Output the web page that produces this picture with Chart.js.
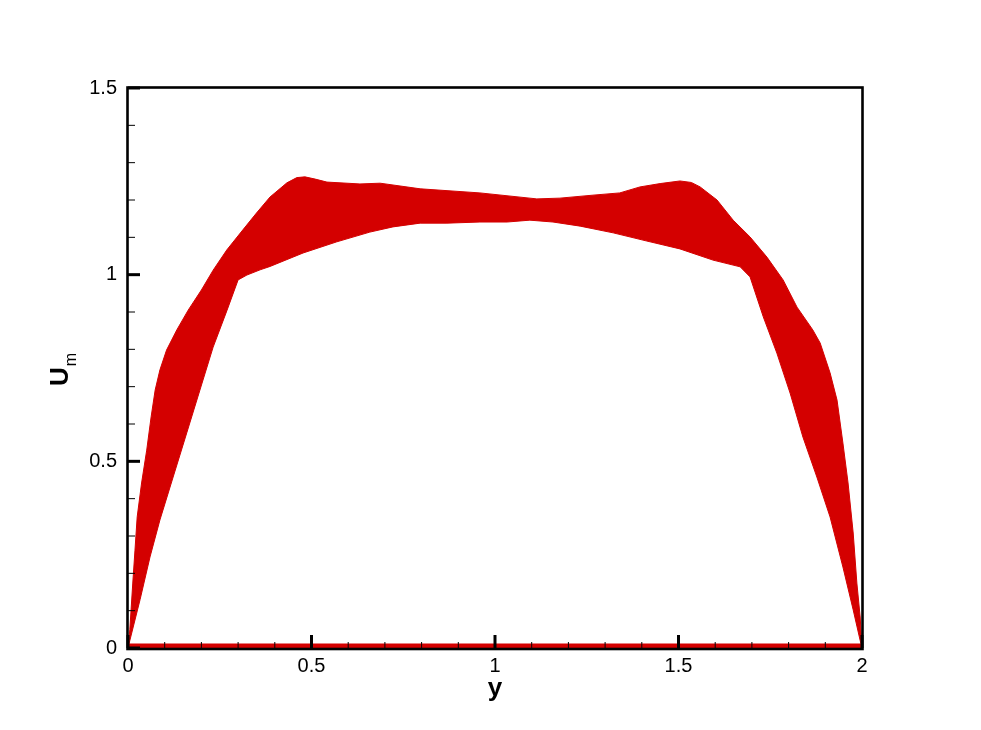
<!DOCTYPE html>
<html lang="en">
<head>
  <meta charset="UTF-8">
  <title>U_m vs y</title>
  <script src="https://cdn.jsdelivr.net/npm/chart.js"></script>
  <style>
    body { background:#fff; margin:0; padding:0 }
    #wrap { width:981px; height:730px }
  </style>
</head>
<body>
  <div id="wrap"><canvas id="umChart" width="981" height="730"></canvas></div>

  <script>
    // upper edge of the band
    const upperX=[0,0.005,0.013,0.019,0.025,0.037,0.051,0.063,0.074,0.087,0.105,0.133,0.164,0.2,0.232,0.269,0.313,0.35,0.387,0.433,0.46,0.482,0.51,0.542,0.632,0.687,0.796,0.959,1.114,1.177,1.267,1.34,1.395,1.45,1.504,1.535,1.559,1.605,1.649,1.695,1.741,1.785,1.823,1.866,1.886,1.913,1.932,1.948,1.962,1.976,1.986,1.995,2.0];
    const upperU=[0,0.05,0.174,0.262,0.351,0.442,0.53,0.619,0.691,0.745,0.798,0.852,0.905,0.959,1.012,1.066,1.12,1.165,1.208,1.246,1.26,1.262,1.256,1.248,1.243,1.245,1.23,1.219,1.203,1.205,1.213,1.219,1.235,1.244,1.251,1.247,1.235,1.2,1.146,1.101,1.047,0.986,0.913,0.852,0.817,0.737,0.664,0.549,0.442,0.308,0.174,0.083,0];
    // lower edge of the band
    const lowerX=[0,0.005,0.033,0.06,0.087,0.123,0.16,0.196,0.232,0.27,0.3,0.324,0.36,0.387,0.477,0.569,0.659,0.722,0.796,0.869,0.959,1.033,1.095,1.158,1.232,1.322,1.414,1.504,1.594,1.668,1.695,1.731,1.768,1.804,1.839,1.877,1.913,1.948,1.976,1.995,2.0];
    const lowerU=[0,0.02,0.13,0.244,0.343,0.458,0.576,0.691,0.806,0.905,0.986,0.999,1.013,1.022,1.058,1.088,1.114,1.128,1.138,1.138,1.141,1.141,1.146,1.141,1.13,1.112,1.09,1.069,1.039,1.021,0.994,0.887,0.79,0.683,0.565,0.458,0.351,0.217,0.102,0.02,0];
    // the flat line lying on the axis
    const zeroX=[0,2];
    const zeroU=[0,0];

    const xTicks=[0,0.5,1,1.5,2];
    const yTicks=[0,0.5,1,1.5];
    const RED="#d40000";

    const pts=(xs,ys)=>xs.map((x,i)=>({x,y:ys[i]}));

    // tecplot-like frame, inward ticks and axis titles
    const framePlugin={
      id:"frame",
      afterDraw(chart){
        const {ctx,chartArea:a,scales:{x,y}}=chart;
        ctx.save();
        ctx.strokeStyle="#000";
        // minor + major ticks on bottom axis
        for(let i=0;i<=20;i++){
          const v=i/10, px=x.getPixelForValue(v), major=i%5===0;
          ctx.lineWidth=major?3:1;
          ctx.beginPath();
          ctx.moveTo(px,a.bottom);
          ctx.lineTo(px,a.bottom-(major?13:6));
          ctx.stroke();
        }
        // minor + major ticks on left axis
        for(let i=0;i<=15;i++){
          const v=i/10, py=y.getPixelForValue(v), major=i%5===0;
          ctx.lineWidth=major?3:1;
          ctx.beginPath();
          ctx.moveTo(a.left,py);
          ctx.lineTo(a.left+(major?12:7),py);
          ctx.stroke();
        }
        ctx.lineWidth=2.6;
        ctx.strokeRect(a.left-0.5,a.top-0.5,a.right-a.left+1,a.bottom-a.top+1.5);

        ctx.fillStyle="#000";
        // x title
        ctx.font="bold 26px 'Liberation Sans', Arial, sans-serif";
        ctx.textAlign="center";
        ctx.textBaseline="alphabetic";
        ctx.fillText("y",(a.left+a.right)/2,696);
        // y title U with subscript m
        ctx.translate(68,386);
        ctx.rotate(-Math.PI/2);
        ctx.textAlign="left";
        ctx.fillText("U",0,0);
        const w=ctx.measureText("U").width;
        ctx.font="16px 'Liberation Sans', Arial, sans-serif";
        ctx.fillText("m",w+1,8);
        ctx.restore();
      }
    };

    new Chart(document.getElementById("umChart"),{
      type:"line",
      data:{datasets:[
        {data:pts(upperX,upperU),borderColor:RED,backgroundColor:RED,borderWidth:1,fill:"+1",pointRadius:0,tension:0},
        {data:pts(lowerX,lowerU),borderColor:RED,backgroundColor:RED,borderWidth:1,fill:false,pointRadius:0,tension:0},
        {data:pts(zeroX,zeroU),borderColor:RED,borderWidth:9,fill:false,pointRadius:0,clip:0}
      ]},
      options:{
        responsive:false,
        animation:false,
        devicePixelRatio:1,
        layout:{padding:{top:88,right:119,left:0,bottom:0}},
        plugins:{legend:{display:false},tooltip:{enabled:false}},
        scales:{
          x:{
            type:"linear",min:0,max:2,
            afterBuildTicks:s=>{s.ticks=xTicks.map(v=>({value:v}));},
            afterFit:s=>{s.height=82;},
            grid:{display:false,drawTicks:false},
            border:{display:false},
            ticks:{autoSkip:false,maxRotation:0,padding:6,color:"#000",
              font:{family:"'Liberation Sans', Arial, sans-serif",size:20},
              callback:v=>String(v)}
          },
          y:{
            type:"linear",min:0,max:1.5,
            afterBuildTicks:s=>{s.ticks=yTicks.map(v=>({value:v}));},
            afterFit:s=>{s.width=128;},
            grid:{display:false,drawTicks:false},
            border:{display:false},
            ticks:{autoSkip:false,padding:11,color:"#000",
              font:{family:"'Liberation Sans', Arial, sans-serif",size:20},
              callback:v=>String(v)}
          }
        }
      },
      plugins:[framePlugin]
    });
  </script>
</body>
</html>
